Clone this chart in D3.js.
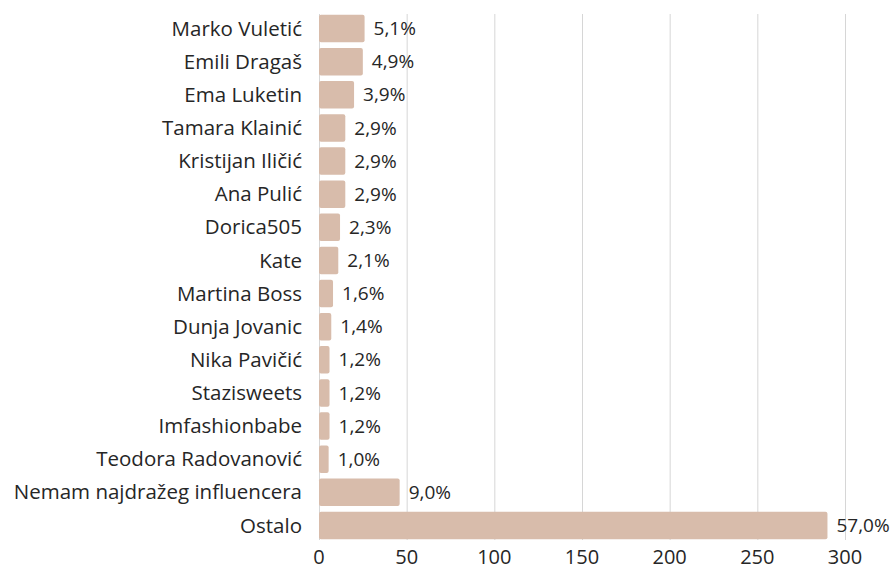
<!DOCTYPE html>
<html>
<head>
<meta charset="utf-8">
<script src="https://d3js.org/d3.v7.min.js"></script>
<style>
  body { margin: 0; background: #fff; }
  text { font-family: "Open Sans", sans-serif; fill: #262626; }
</style>
</head>
<body>
<div id="chart"></div>
<script>
// data
var names = ["Marko Vuletić", "Emili Dragaš", "Ema Luketin", "Tamara Klainić",
  "Kristijan Iličić", "Ana Pulić", "Dorica505", "Kate", "Martina Boss",
  "Dunja Jovanic", "Nika Pavičić", "Stazisweets", "Imfashionbabe",
  "Teodora Radovanović", "Nemam najdražeg influencera", "Ostalo"];
var counts = [26, 25, 20, 15, 15, 15, 12, 11, 8, 7, 6, 6, 6, 5.5, 46, 290];
var shares = ["5,1%", "4,9%", "3,9%", "2,9%", "2,9%", "2,9%", "2,3%", "2,1%",
  "1,6%", "1,4%", "1,2%", "1,2%", "1,2%", "1,0%", "9,0%", "57,0%"];
var xTicks = [0, 50, 100, 150, 200, 250, 300];

var width = 892, height = 569;
var margin = {top: 12, right: 47, bottom: 27, left: 319};

var svg = d3.select("#chart").append("svg")
    .attr("width", width)
    .attr("height", height);

var x = d3.scaleLinear()
    .domain([0, 300])
    .range([margin.left, width - margin.right]);

var y = d3.scaleBand()
    .domain(names)
    .range([margin.top, height - margin.bottom])
    .paddingInner(0.17)
    .paddingOuter(0.085);

/* gridlines */
svg.append("g")
    .selectAll("line")
    .data(xTicks)
    .join("line")
    .attr("x1", d => x(d) + 0.5)
    .attr("x2", d => x(d) + 0.5)
    .attr("y1", 14)
    .attr("y2", 540)
    .attr("stroke", "#d6d6d6")
    .attr("stroke-width", 1);

/* tick labels */
svg.append("g")
    .selectAll("text")
    .data(xTicks)
    .join("text")
    .attr("x", d => x(d))
    .attr("y", 564)
    .attr("text-anchor", "middle")
    .attr("font-size", "20px")
    .text(d => d);

/* bars */
svg.append("g")
    .selectAll("rect")
    .data(counts)
    .join("rect")
    .attr("x", x(0))
    .attr("y", (d, i) => y(names[i]))
    .attr("width", d => x(d) - x(0))
    .attr("height", y.bandwidth())
    .attr("rx", 2)
    .attr("fill", "#d8bcab");

/* category labels */
svg.append("g")
    .selectAll("text")
    .data(names)
    .join("text")
    .attr("x", 302)
    .attr("y", d => y(d) + y.bandwidth() / 2)
    .attr("dy", "0.35em")
    .attr("text-anchor", "end")
    .attr("font-size", "20.5px")
    .text(d => d);

/* value labels */
svg.append("g")
    .selectAll("text")
    .data(counts)
    .join("text")
    .attr("x", d => x(d) + 9)
    .attr("y", (d, i) => y(names[i]) + y.bandwidth() / 2)
    .attr("dy", "0.35em")
    .attr("font-size", "19px")
    .text((d, i) => shares[i]);
</script>
</body>
</html>
